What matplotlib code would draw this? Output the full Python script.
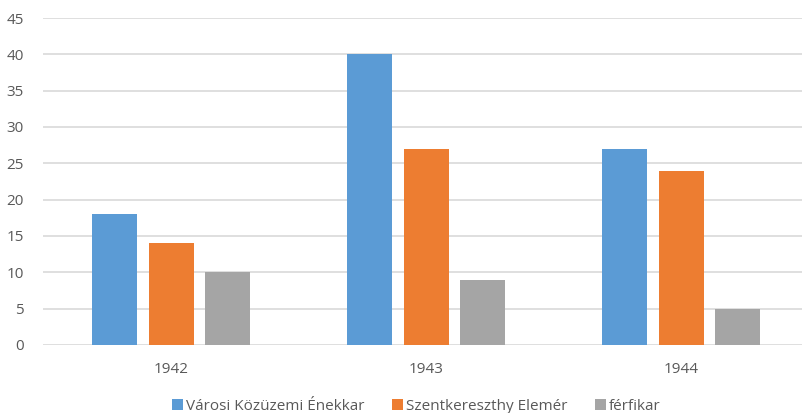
import matplotlib
matplotlib.use("Agg")
import matplotlib.pyplot as plt
import numpy as np

years = ["1942", "1943", "1944"]
series_names = ["Városi Közüzemi Énekkar", "Szentkereszthy Elemér", "férfikar"]
varosi = [18, 40, 27]
szentkereszthy = [14, 27, 24]
ferfikar = [10, 9, 5]
colors = ["#5B9BD5", "#ED7D31", "#A5A5A5"]
yticks = [0, 5, 10, 15, 20, 25, 30, 35, 40, 45]

plt.rcParams["font.family"] = ["Open Sans", "DejaVu Sans"]

fig = plt.figure(figsize=(8.02, 4.13), dpi=100)
ax = fig.add_axes([43 / 802, 1 - 345 / 413, 1 - 43 / 802, (345 - 18) / 413])

x = np.arange(len(years))
width = 45 / 255
step = 56.5 / 255
for i, (vals, name, c) in enumerate(zip([varosi, szentkereszthy, ferfikar], series_names, colors)):
    ax.bar(x + (i - 1) * step, vals, width=width, color=c, label=name, zorder=3)

ax.set_xlim(-128 / 255, 2 + 121 / 255)
ax.set_ylim(0, 45)
ax.set_yticks(yticks)
ax.set_xticks(x)
ax.set_xticklabels(years)
ax.yaxis.grid(True, color="#D9D9D9", linewidth=1.2, zorder=0)
for s in ax.spines.values():
    s.set_visible(False)
ax.tick_params(axis="both", length=0, colors="#595959", labelsize=11)
ax.tick_params(axis="y", pad=14)
ax.tick_params(axis="x", pad=12)

handles, labels = ax.get_legend_handles_labels()
leg = fig.legend(handles, labels, loc="lower center", bbox_to_anchor=(416 / 802, -0.035),
                 ncol=3, frameon=False, fontsize=11, handlelength=0.72, handleheight=0.72,
                 handletextpad=0.2, columnspacing=1.8)
for t in leg.get_texts():
    t.set_color("#595959")

fig.savefig("out.png", dpi=100)
